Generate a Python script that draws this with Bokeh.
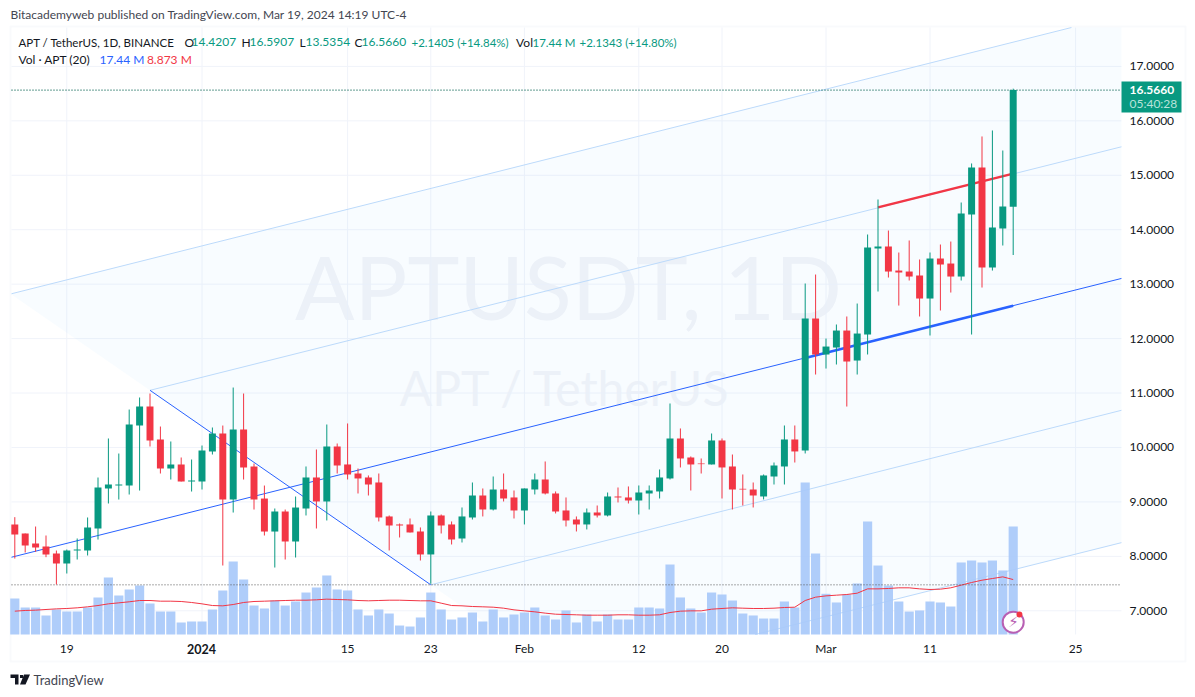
from bokeh.plotting import figure
from bokeh.embed import file_html
from bokeh.resources import INLINE
from bokeh.models import (ColumnDataSource, FixedTicker, NumeralTickFormatter, Range1d,
                          Label, BoxAnnotation, PolyAnnotation)

# ---------- data ----------
tick_idx = [5, 18, 32, 40, 49, 60, 68, 78, 88, 102]
tick_txt = ["19", "", "15", "23", "Feb", "12", "20", "Mar", "11", "25"]
price_ticks = [7, 8, 9, 10, 11, 12, 13, 14, 15, 16, 17]

opens = [8.585,8.420,8.236,8.181,8.052,7.869,8.107,8.107,8.511,9.246,9.301,9.301,10.403,10.752,10.146,9.614,9.687,9.375,9.375,9.926,
         10.256,9.044,10.330,9.650,9.062,8.456,8.824,8.273,8.879,9.449,9.008,10.018,9.688,9.522,9.449,9.357,8.733,8.586,8.586,8.457,
         8.035,8.751,8.586,8.328,8.714,9.118,8.861,9.228,9.082,8.843,9.228,9.412,9.155,8.843,8.677,8.586,8.806,8.751,9.100,9.082,
         9.026,9.155,9.192,9.431,10.165,9.816,9.706,9.688,10.129,9.651,9.241,9.228,9.100,9.467,9.651,10.147,9.945,12.369,11.708,11.836,
         12.148,11.597,12.075,13.655,13.691,13.250,13.232,13.159,12.736,13.471,13.379,13.140,14.279,15.143,13.306,14.022,14.4207]
highs = [8.720,8.420,8.548,8.383,8.107,8.126,8.328,8.714,9.448,10.165,9.889,10.697,10.918,10.991,10.385,10.110,9.816,9.779,10.036,10.367,
         10.403,11.101,10.991,9.705,9.301,8.879,8.860,9.099,9.651,9.963,10.422,10.073,10.441,9.614,9.486,9.522,8.751,8.604,8.696,8.531,
         8.824,8.769,8.641,8.898,9.357,9.247,9.467,9.522,9.210,9.247,9.522,9.743,9.192,9.082,8.733,8.879,8.934,9.173,9.265,9.284,
         9.302,9.302,9.596,10.808,10.349,9.835,9.798,10.257,10.165,9.871,9.504,9.357,9.504,9.724,10.404,10.404,13.012,13.177,12.001,12.259,
         12.406,12.644,13.912,14.555,13.985,13.581,13.802,13.453,13.581,13.728,13.783,14.500,15.217,15.713,15.823,15.455,16.5907]
lows = [7.960,8.071,8.083,7.985,7.483,7.685,7.942,8.016,8.309,8.971,9.044,9.136,9.209,10.018,9.522,9.411,9.375,9.191,9.228,9.871,
        7.832,8.805,9.411,8.860,8.383,7.795,7.942,7.979,8.751,8.512,8.659,9.522,9.412,9.155,9.118,8.641,8.108,8.347,8.439,7.924,
        7.496,8.420,8.218,8.255,8.677,8.733,8.843,9.008,8.696,8.586,9.137,9.137,8.788,8.549,8.457,8.494,8.714,8.733,8.990,8.971,
        8.769,8.861,9.063,9.412,9.633,9.210,9.522,9.688,9.063,8.861,8.934,8.898,9.045,9.320,9.320,9.724,9.890,11.340,11.450,11.524,
        10.752,11.340,11.708,12.865,13.122,12.607,13.067,12.406,12.057,12.516,12.846,13.067,12.075,12.938,13.250,13.710,13.5354]
closes = [8.401,8.199,8.162,8.034,7.869,8.107,8.126,8.530,9.265,9.320,9.320,10.422,10.752,10.128,9.614,9.687,9.375,9.393,9.944,10.256,
          9.044,10.330,9.632,9.044,8.456,8.824,8.273,8.897,9.449,9.008,10.018,9.669,9.504,9.431,9.320,8.714,8.567,8.567,8.439,8.035,
          8.751,8.567,8.310,8.733,9.118,8.861,9.228,9.063,8.843,9.247,9.412,9.155,8.824,8.659,8.586,8.806,8.751,9.100,9.082,9.026,
          9.173,9.210,9.449,10.165,9.798,9.688,9.694,10.129,9.633,9.228,9.228,9.118,9.486,9.669,10.147,9.927,12.369,11.708,11.854,12.148,
          11.579,12.093,13.673,13.691,13.232,13.214,13.140,12.736,13.471,13.361,13.140,14.298,15.143,13.306,14.040,14.426,16.5660]
volumes = [5.81,4.36,4.36,3.07,4.04,3.71,3.71,4.36,5.98,9.20,6.30,7.27,7.91,5.01,3.71,3.71,1.94,2.10,2.10,4.04,
           7.11,11.79,8.88,4.68,4.20,5.49,4.68,5.33,6.78,7.59,9.53,7.27,7.11,4.04,3.07,4.04,3.39,1.45,1.29,2.75,
           6.78,4.04,2.42,2.75,3.55,2.10,4.04,2.75,3.23,3.55,4.36,3.07,2.42,3.88,1.94,3.23,2.10,3.23,2.42,2.42,
           4.36,4.36,4.20,11.30,5.98,4.20,3.55,6.78,6.46,5.49,3.39,3.07,2.58,2.58,5.33,4.36,24.55,13.08,6.57,5.17,
           6.46,8.24,18.25,11.14,7.91,5.33,3.71,3.88,5.33,5.17,4.52,11.63,11.95,11.63,11.95,10.34,17.44]
vol_ma = [3.77,3.88,3.93,4.04,4.14,4.20,4.31,4.47,4.68,4.95,5.11,5.28,5.49,5.49,5.38,5.38,5.33,5.17,4.95,4.68,
          4.63,4.84,5.17,5.33,5.38,5.44,5.49,5.54,5.54,5.60,5.71,5.65,5.60,5.49,5.44,5.49,5.54,5.54,5.49,5.44,
          5.44,5.06,4.68,4.63,4.52,4.47,4.41,4.25,3.98,3.82,3.66,3.45,3.28,3.23,3.18,3.12,3.12,3.12,3.18,3.18,
          3.12,3.12,3.18,3.55,3.77,3.82,3.82,4.09,4.20,4.31,4.25,4.20,4.20,4.25,4.36,4.41,5.49,6.03,6.24,6.35,
          6.46,6.67,7.37,7.37,7.43,7.54,7.54,7.37,7.27,7.32,7.54,7.97,8.40,8.77,9.04,9.31,8.873]

# pane limits: bar index and price at the pane's edges
pane_x = [-0.317, 106.41]
pane_y = [6.565, 17.714]

# pitchfork anchors: (bar index, price)
fork_fill_x = [-0.317, 101.6, 106.41, 106.41, 71.2, 46.9, -0.317]
fork_fill_y = [12.824, 17.714, 17.714, 8.252, 6.565, 6.565, 12.812]
median_x, median_y = [-0.317, 106.41], [7.984, 13.105]
upper_x, upper_y = [-0.317, 101.6], [12.824, 17.714]
inner_up_x, inner_up_y = [13, 106.41], [11.05, 15.523]
inner_lo_x, inner_lo_y = [40, 106.41], [7.477, 10.683]
lower_x, lower_y = [71.2, 106.41], [6.565, 8.252]
cross_x, cross_y = [13, 40], [11.05, 7.477]
blue_trend_x, blue_trend_y = [76, 96], [11.645, 12.604]
red_trend_x, red_trend_y = [83, 96], [14.41, 15.03]
last_close, low_mark = 16.566, 7.477

# ---------- page constants ----------
W, H = 1195, 697
xr = (5 + (0 - 66.3) / 10.4, 5 + (W - 66.3) / 10.4)
yr = (7 + (610.3 - H) / 54.44, 7 + 610.3 / 54.44)
px_per_m = 1 / 0.1615
vol_rng = (-(H - 634) / px_per_m, 634 / px_per_m)

GREEN, RED, BLUE = "#089981", "#f23645", "#2962ff"
LIGHT = "#bcdafb"
GRID = "#f0f3fa"
TXT = "#131722"
FONT = "Lato"

p = figure(width=W, height=H, output_backend="svg", toolbar_location=None,
           x_range=Range1d(*xr), y_range=Range1d(*yr), y_axis_location="right",
           min_border=0, min_border_left=0, min_border_right=0, min_border_top=0, min_border_bottom=0,
           background_fill_color="white", border_fill_color="white", outline_line_color=None)
p.extra_y_ranges = {"vol": Range1d(*vol_rng)}

for ax in (p.xaxis[0], p.yaxis[0]):
    ax.axis_line_color = None
    ax.major_tick_line_color = None
    ax.minor_tick_line_color = None
    ax.major_tick_out = 0
    ax.major_tick_in = 0
    ax.minor_tick_out = 0
    ax.minor_tick_in = 0
    ax.major_label_text_color = TXT
    ax.major_label_text_font = FONT
    ax.major_label_text_font_size = "12px"
p.xaxis[0].fixed_location = pane_y[0]
p.yaxis[0].fixed_location = pane_x[1]
p.xaxis[0].ticker = FixedTicker(ticks=tick_idx)
p.xaxis[0].major_label_overrides = dict(zip(tick_idx, tick_txt))
p.xaxis[0].major_label_standoff = 7
p.yaxis[0].ticker = FixedTicker(ticks=price_ticks)
p.yaxis[0].formatter = NumeralTickFormatter(format="0.0000")
p.yaxis[0].major_label_standoff = 8
p.xgrid.visible = False
p.ygrid.visible = False


def lab(x, y, text, color=TXT, size="12px", style="normal", align="left", level="annotation", font=FONT):
    p.add_layout(Label(x=x, y=y, x_units="canvas", y_units="canvas", text=text,
                       text_color=color, text_font_size=size, text_font=font, text_font_style=style,
                       text_align=align, text_baseline="middle", level=level))


# grid of the pane
p.segment(x0=tick_idx, y0=[pane_y[0]] * len(tick_idx), x1=tick_idx, y1=[pane_y[1]] * len(tick_idx),
          line_color=GRID, line_width=1)
p.segment(x0=[pane_x[0]] * len(price_ticks), y0=price_ticks, x1=[pane_x[1]] * len(price_ticks), y1=price_ticks,
          line_color=GRID, line_width=1)

# watermark
lab(568, 285, "APTUSDT, 1D", color="#f3f4f8", size="88px", align="center", level="underlay")
lab(565, 387, "APT / TetherUS", color="#f3f4f8", size="48px", align="center", level="underlay")

# pitchfork
p.patch(fork_fill_x, fork_fill_y, fill_color="#4fb3ff", fill_alpha=0.04, line_color=None)
for xs, ys in ((upper_x, upper_y), (inner_up_x, inner_up_y), (inner_lo_x, inner_lo_y), (lower_x, lower_y)):
    p.line(xs, ys, line_color=LIGHT, line_width=1)
p.line(median_x, median_y, line_color=BLUE, line_width=1)
p.line(cross_x, cross_y, line_color=BLUE, line_width=1)

# volume
idx = list(range(len(volumes)))
p.vbar(x=idx, top=volumes, bottom=0, width=0.88, fill_color="#a8c9fa", fill_alpha=0.92, line_color=None, y_range_name="vol")
p.line(idx, vol_ma, line_color=RED, line_width=1, y_range_name="vol")

# trend lines under the candles
p.line(blue_trend_x, blue_trend_y, line_color=BLUE, line_width=2.5)
p.line(red_trend_x, red_trend_y, line_color=RED, line_width=2.5)

# dotted price lines
p.line(pane_x, [last_close, last_close], line_color="#04604f", line_dash="1 2", line_width=1.2)
p.line(pane_x, [low_mark, low_mark], line_color="#555555", line_dash="1 2", line_width=1)

# candles
colors = [GREEN if c >= o else RED for o, c in zip(opens, closes)]
src = ColumnDataSource(dict(x=idx, o=opens, h=highs, l=lows, c=closes, col=colors,
                            top=[max(a, b) for a, b in zip(opens, closes)],
                            bot=[min(a, b) for a, b in zip(opens, closes)]))
p.segment("x", "h", "x", "l", color="col", line_width=1, source=src)
p.vbar(x="x", top="top", bottom="bot", width=0.67, fill_color="col", line_color=None, source=src)

# chart frame, drawn on the canvas around the whole widget
p.add_layout(BoxAnnotation(left=10, right=1185, top=26, bottom=661,
                           left_units="canvas", right_units="canvas", top_units="canvas", bottom_units="canvas",
                           fill_alpha=0, line_color="#eceff4", line_width=2, level="underlay"))
# last-price tag
p.add_layout(BoxAnnotation(left=1121, right=1181, top=81, bottom=112,
                           left_units="canvas", right_units="canvas", top_units="canvas", bottom_units="canvas",
                           fill_color=GREEN, fill_alpha=1, line_color=None))
lab(1129, 89, "16.5660", color="white", size="12px", style="bold")
lab(1129, 103, "05:40:28", color="#b9e3da", size="12px")

# header
lab(10, 14, "Bitacademyweb published on TradingView.com, Mar 19, 2024 14:19 UTC-4", color="#434651", size="12px")
for x, t, c, s in [(18, "APT / TetherUS, 1D, BINANCE", TXT, "11.5px"), (184, "O", TXT, "12px"), (191, "14.4207", GREEN, "12px"),
                   (241, "H", TXT, "12px"), (249, "16.5907", GREEN, "12px"), (299, "L", TXT, "12px"), (305, "13.5354", GREEN, "12px"),
                   (354, "C", TXT, "12px"), (361, "16.5660", GREEN, "12px"), (411, "+2.1405 (+14.84%)", GREEN, "11.5px"),
                   (515.6, "Vol", TXT, "12px"), (532, "17.44 M", GREEN, "11.5px"), (579, "+2.1343 (+14.80%)", GREEN, "11.5px")]:
    lab(x, 41.5, t, color=c, size=s)
for x, t, c in [(18, "Vol · APT (20)", TXT), (99, "17.44 M", BLUE), (146.4, "8.873 M", RED)]:
    lab(x, 59, t, color=c)

lab(201, 648, "2024", style="bold", align="center", size="12.5px")

# footer logo
for xs, ys in (([10, 18, 18, 14.5, 14.5, 10], [674, 674, 684, 684, 677.5, 677.5]),
               ([23.5, 29.5, 25, 19.5], [674, 674, 684, 684])):
    p.add_layout(PolyAnnotation(xs=xs, ys=ys, xs_units="canvas", ys_units="canvas",
                                fill_color=TXT, fill_alpha=1, line_color=None))
p.add_layout(BoxAnnotation(left=19.5, right=22.5, top=674.5, bottom=677.5,
                           left_units="canvas", right_units="canvas", top_units="canvas", bottom_units="canvas",
                           fill_color=TXT, fill_alpha=1, line_color=None))
lab(33, 679, "TradingView", color="#434651", size="13px")

# bolt badge
p.scatter(x=[96], y=[6.79], size=21, marker="circle", fill_color="white", line_color="#b85fb3", line_width=2)
lab(1013, 621, "\u26a1", color="#b85fb3", size="15px", align="center", font="DejaVu Sans")
p.scatter(x=[96.6], y=[6.93], size=6, marker="circle", fill_color=RED, line_color=None)

open("out.html", "w").write(file_html(p, INLINE))
